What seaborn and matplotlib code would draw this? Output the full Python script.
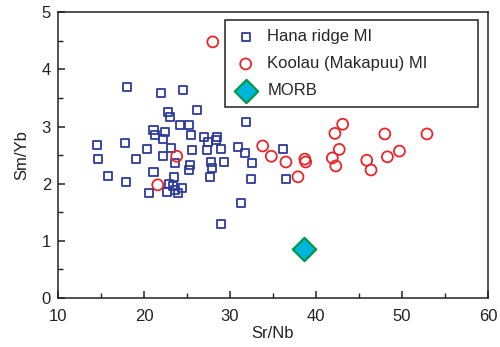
import matplotlib
matplotlib.use("Agg")
import matplotlib.pyplot as plt
import seaborn as sns
import pandas as pd
from matplotlib.ticker import MultipleLocator

# Hana ridge MI
hana_srnb = [14.5, 14.7, 15.8, 17.8, 17.9, 18.0, 19.1, 20.4, 20.6, 21.1, 21.3, 21.1,
             22.0, 22.2, 22.2, 22.4, 22.8, 23.0, 23.1, 22.9, 22.7, 23.6, 23.5, 23.4,
             23.6, 24.0, 24.4, 24.5, 24.2, 25.2, 25.5, 25.6, 25.4, 25.2, 26.2, 27.0,
             27.4, 27.3, 27.8, 27.9, 27.7, 28.5, 28.4, 29.0, 29.3, 29.0, 30.9, 31.7,
             31.9, 32.6, 32.4, 31.3, 36.2, 36.5]
hana_smyb = [2.67, 2.43, 2.13, 2.71, 2.03, 3.69, 2.43, 2.60, 1.84, 2.94, 2.85, 2.20,
             3.58, 2.48, 2.78, 2.90, 3.25, 3.16, 2.62, 1.99, 1.85, 2.36, 2.12, 1.96,
             1.89, 1.84, 1.92, 3.64, 3.02, 3.02, 2.85, 2.59, 2.33, 2.24, 3.29, 2.81,
             2.73, 2.59, 2.38, 2.27, 2.12, 2.81, 2.76, 2.60, 2.38, 1.29, 2.64, 2.53,
             3.08, 2.36, 2.08, 1.66, 2.60, 2.08]

# Koolau (Makapuu) MI
koolau_srnb = [28.0, 23.8, 21.6, 33.8, 34.8, 36.5, 37.9, 38.7, 38.8, 43.1, 42.2, 42.7,
               41.9, 42.3, 45.9, 46.4, 48.0, 48.3, 49.7, 52.9]
koolau_smyb = [4.48, 2.48, 1.98, 2.66, 2.48, 2.38, 2.12, 2.43, 2.38, 3.04, 2.88, 2.60,
               2.45, 2.31, 2.41, 2.24, 2.87, 2.47, 2.57, 2.87]

# MORB
morb_srnb = [38.6]
morb_smyb = [0.86]

labels = ["Hana ridge MI", "Koolau (Makapuu) MI", "MORB"]

df_h = pd.DataFrame({"Sr/Nb": hana_srnb, "Sm/Yb": hana_smyb})
df_k = pd.DataFrame({"Sr/Nb": koolau_srnb, "Sm/Yb": koolau_smyb})
df_m = pd.DataFrame({"Sr/Nb": morb_srnb, "Sm/Yb": morb_smyb})

sns.set_style("ticks")
plt.rcParams["font.family"] = ["Liberation Sans", "DejaVu Sans"]

fig = plt.figure(figsize=(5.0, 3.47), dpi=100)
ax = fig.add_axes([0.116, 0.141, 0.860, 0.824])

sns.scatterplot(data=df_h, x="Sr/Nb", y="Sm/Yb", ax=ax, marker="s", s=34,
                facecolor="none", edgecolor="#2E3A9C", linewidth=1.3,
                label=labels[0], zorder=3)
sns.scatterplot(data=df_k, x="Sr/Nb", y="Sm/Yb", ax=ax, marker="o", s=62,
                facecolor="none", edgecolor="#E8262A", linewidth=1.3,
                label=labels[1], zorder=3)
sns.scatterplot(data=df_m, x="Sr/Nb", y="Sm/Yb", ax=ax, marker="D", s=140,
                facecolor="#00B4E0", edgecolor="#009A44", linewidth=1.6,
                label=labels[2], zorder=4)

ax.set_xlim(10, 60)
ax.set_ylim(0, 5)
ax.xaxis.set_major_locator(MultipleLocator(10))
ax.xaxis.set_minor_locator(MultipleLocator(5))
ax.yaxis.set_major_locator(MultipleLocator(1))
ax.yaxis.set_minor_locator(MultipleLocator(0.5))
ax.tick_params(which="major", direction="in", length=5, width=1.1, labelsize=12,
               colors="#222222", labelcolor="#222222")
ax.tick_params(axis="x", which="major", pad=8)
ax.tick_params(axis="y", which="major", pad=5)
ax.tick_params(which="minor", direction="in", length=3.5, width=1.0, colors="#222222")
for sp in ax.spines.values():
    sp.set_visible(True)
    sp.set_linewidth(1.1)
    sp.set_color("#222222")

ax.set_xlabel("Sr/Nb", fontsize=12, color="#222222", labelpad=1)
ax.set_ylabel("Sm/Yb", fontsize=12, color="#222222", labelpad=9)

leg = ax.legend(loc="upper left", bbox_to_anchor=(0.388, 0.671, 0.589, 0.301),
                mode="expand", borderaxespad=0, frameon=True, fancybox=False,
                framealpha=1, edgecolor="#222222", fontsize=12, labelspacing=0.72,
                handletextpad=0.6, borderpad=0.55, handlelength=1.4)
leg.get_frame().set_linewidth(1.1)

fig.savefig("out.png", dpi=100)
